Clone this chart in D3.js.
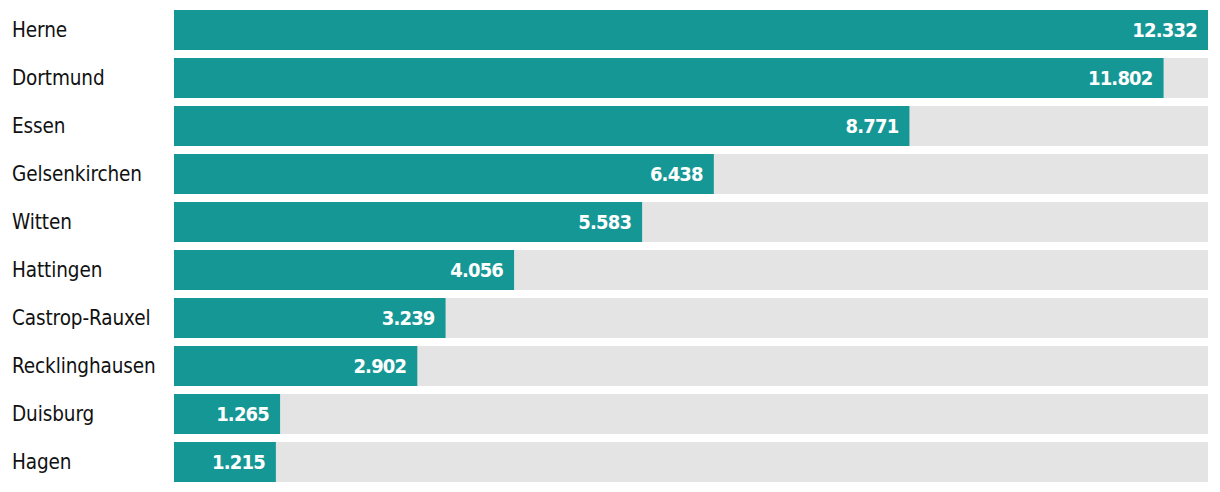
<!DOCTYPE html>
<html><head><meta charset="utf-8">
<script src="https://cdn.jsdelivr.net/npm/d3@7"></script>
<style>body{margin:0;background:#fff;}svg{display:block;}</style>
</head><body>
<svg id="chart" width="1220" height="492"></svg>
<script>
const categories = ["Herne","Dortmund","Essen","Gelsenkirchen","Witten","Hattingen","Castrop-Rauxel","Recklinghausen","Duisburg","Hagen"];
const values = [12332,11802,8771,6438,5583,4056,3239,2902,1265,1215];
const valueLabels = ["12.332","11.802","8.771","6.438","5.583","4.056","3.239","2.902","1.265","1.215"];

const svg = d3.select("#chart");
const x = d3.scaleLinear().domain([0, d3.max(values)]).range([174, 1208]);
const y = d3.scaleBand().domain(categories).range([10, 482]).paddingInner(8/48).paddingOuter(0);
const fontFam = "'DejaVu Sans Condensed','Liberation Sans Narrow','Roboto',sans-serif";

const rows = svg.selectAll("g.row").data(categories).join("g").attr("class","row");
rows.append("rect").attr("x", x(0)).attr("y", d=>y(d)).attr("width", x.range()[1]-x(0)).attr("height", y.bandwidth()).attr("fill","#e4e4e4");
rows.append("rect").attr("x", x(0)).attr("y", d=>y(d)).attr("width", (d,i)=>x(values[i])-x(0)).attr("height", y.bandwidth()).attr("fill","#159895");
rows.append("text").attr("x", 12).attr("y", d=>y(d)+y.bandwidth()/2).attr("dy","0.36em")
  .attr("font-family", fontFam).attr("font-size", 20.5).attr("letter-spacing", -0.1).attr("fill","#111").text(d=>d);
rows.append("text").attr("x", (d,i)=>x(values[i])-11).attr("y", d=>y(d)+y.bandwidth()/2).attr("dy","0.36em")
  .attr("text-anchor","end").attr("font-family", fontFam).attr("font-weight","bold").attr("font-size", 20).attr("letter-spacing", -0.8).attr("fill","#fff").text((d,i)=>valueLabels[i]);
</script>
</body></html>
